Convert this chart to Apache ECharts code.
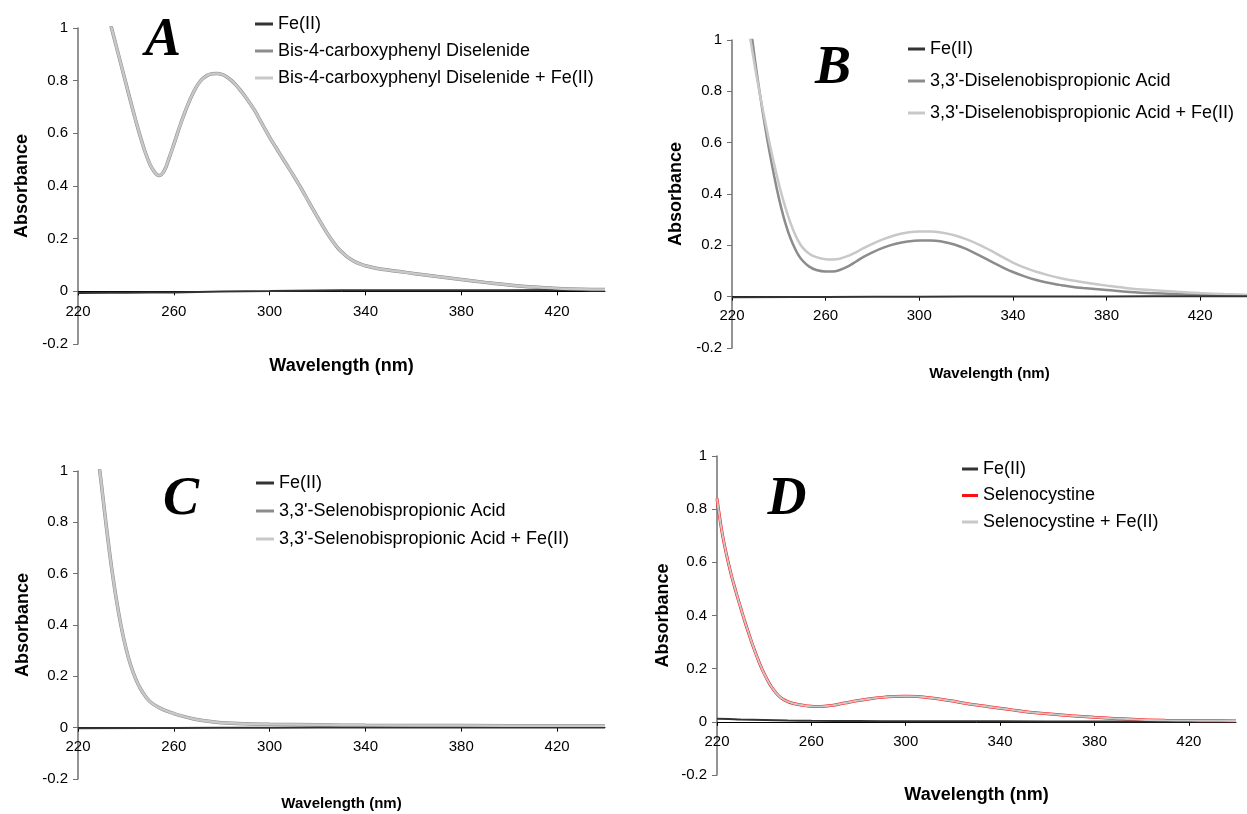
<!DOCTYPE html>
<html>
<head>
<meta charset="utf-8">
<title>UV-Vis spectra A-D</title>
<script src="https://cdn.jsdelivr.net/npm/echarts@6/dist/echarts.min.js"></script>
<style>
  html, body { margin: 0; padding: 0; background: #fff; }
  #chart { width: 1247px; height: 814px; }
</style>
</head>
<body>
<div id="chart"></div>
<script>
// ---- data (wavelength nm / absorbance) ----

// panel A
var aFeNm = [220, 240, 260, 280, 300, 320, 340, 380, 420, 440];
var aFeAbs = [-0.006, -0.005, -0.004, -0.001, 0.001, 0.003, 0.004, 0.004, 0.005, 0.004];
var aNm = [232, 234, 236, 238, 240, 242, 244, 246, 248, 250, 252, 253, 254, 256, 258, 260, 262, 264, 266, 268,
  270, 272, 274, 276, 278, 280, 282, 284, 286, 288, 290, 292, 294, 296, 298, 300, 302, 304, 306, 308,
  310, 312, 314, 316, 318, 320, 322, 324, 326, 328, 330, 332, 334, 336, 338, 340, 345, 350, 355, 360,
  370, 380, 390, 400, 410, 420, 430, 440];
var aAbs = [1.07, 1.0, 0.93, 0.86, 0.79, 0.72, 0.652, 0.588, 0.53, 0.483, 0.452, 0.443, 0.44, 0.458, 0.505, 0.558, 0.613, 0.665, 0.712, 0.752,
  0.785, 0.807, 0.82, 0.826, 0.827, 0.824, 0.815, 0.801, 0.783, 0.761, 0.737, 0.711, 0.683, 0.65, 0.617, 0.585, 0.555, 0.526, 0.497, 0.468,
  0.439, 0.409, 0.378, 0.345, 0.313, 0.282, 0.251, 0.221, 0.194, 0.17, 0.15, 0.134, 0.121, 0.111, 0.103, 0.097, 0.087, 0.08, 0.074, 0.068,
  0.056, 0.045, 0.034, 0.024, 0.016, 0.011, 0.008, 0.007];

// panel B
var bFeNm = [220, 260, 300, 340, 380, 420, 440];
var bFeAbs = [-0.002, -0.001, 0.0, 0.001, 0.001, 0.002, 0.002];
var bNm = [227, 228.7, 230, 232, 234, 236, 238, 240, 242, 244, 246, 248, 250, 253, 256, 260, 263, 266, 270, 273,
  276, 280, 285, 290, 295, 300, 305, 310, 315, 320, 325, 330, 335, 340, 345, 350, 355, 360, 365, 370,
  380, 390, 400, 410, 420, 430, 440];
var bAbs = [1.12, 1.0, 0.91, 0.785, 0.67, 0.565, 0.47, 0.385, 0.312, 0.252, 0.205, 0.168, 0.142, 0.117, 0.104, 0.098, 0.098, 0.104, 0.12, 0.137,
  0.154, 0.173, 0.192, 0.206, 0.215, 0.219, 0.219, 0.214, 0.203, 0.186, 0.164, 0.14, 0.117, 0.096, 0.079, 0.065, 0.054, 0.046, 0.039, 0.034,
  0.026, 0.018, 0.013, 0.01, 0.008, 0.006, 0.004];
var bFeMixNm = [226, 227.9, 230, 232, 234, 236, 238, 240, 242, 244, 246, 248, 250, 253, 256, 260, 263, 266, 270, 273,
  276, 280, 285, 290, 295, 300, 305, 310, 315, 320, 325, 330, 335, 340, 345, 350, 355, 360, 365, 370,
  380, 390, 400, 410, 420, 430, 440];
var bFeMixAbs = [1.1, 1.0, 0.885, 0.785, 0.69, 0.6, 0.517, 0.44, 0.372, 0.313, 0.263, 0.222, 0.193, 0.167, 0.154, 0.146, 0.145, 0.148, 0.16, 0.173,
  0.188, 0.206, 0.225, 0.24, 0.25, 0.254, 0.254, 0.249, 0.239, 0.224, 0.205, 0.182, 0.157, 0.133, 0.113, 0.097, 0.084, 0.073, 0.064, 0.056,
  0.043, 0.032, 0.025, 0.019, 0.014, 0.01, 0.007];

// panel C
var cFeNm = [220, 260, 300, 340, 380, 420, 440];
var cFeAbs = [-0.002, -0.001, 0.0, 0.001, 0.001, 0.001, 0.001];
var cNm = [228, 229.1, 230, 232, 234, 236, 238, 240, 242, 244, 246, 248, 250, 253, 256, 260, 264, 268, 272, 276,
  280, 290, 300, 320, 340, 380, 420, 440];
var cAbs = [1.09, 1.0, 0.93, 0.77, 0.625, 0.5, 0.395, 0.31, 0.243, 0.192, 0.153, 0.124, 0.102, 0.082, 0.068, 0.055, 0.044, 0.035, 0.028, 0.023,
  0.019, 0.015, 0.013, 0.011, 0.009, 0.008, 0.007, 0.007];

// panel D
var dFeNm = [220, 225, 230, 240, 250, 260, 280, 300, 340, 380, 440];
var dFeAbs = [0.012, 0.011, 0.009, 0.007, 0.005, 0.004, 0.003, 0.002, 0.002, 0.001, 0.001];
var dNm = [220, 222, 224, 226, 228, 230, 232, 234, 236, 238, 240, 242, 244, 246, 248, 250, 252, 255, 258, 261,
  264, 268, 272, 276, 280, 285, 290, 295, 300, 305, 310, 315, 320, 325, 330, 335, 340, 345, 350, 355,
  360, 370, 380, 390, 400, 410, 420, 430, 440];
var dAbs = [0.84, 0.72, 0.63, 0.555, 0.49, 0.43, 0.372, 0.318, 0.267, 0.221, 0.181, 0.147, 0.12, 0.099, 0.085, 0.076, 0.07, 0.064, 0.06, 0.058,
  0.058, 0.061, 0.067, 0.074, 0.080, 0.087, 0.092, 0.095, 0.096, 0.095, 0.091, 0.085, 0.078, 0.07, 0.063, 0.057, 0.051, 0.045, 0.039, 0.034,
  0.030, 0.023, 0.017, 0.012, 0.008, 0.006, 0.005, 0.004, 0.003];

var xTicks = [220, 260, 300, 340, 380, 420];
var yTicks = [-0.2, 0, 0.2, 0.4, 0.6, 0.8, 1];

var panelLetters = ['A', 'B', 'C', 'D'];
var legendNames = [
  ['Fe(II)', 'Bis-4-carboxyphenyl Diselenide', 'Bis-4-carboxyphenyl Diselenide + Fe(II)'],
  ['Fe(II)', "3,3'-Diselenobispropionic Acid", "3,3'-Diselenobispropionic Acid + Fe(II)"],
  ['Fe(II)', "3,3'-Selenobispropionic Acid", "3,3'-Selenobispropionic Acid + Fe(II)"],
  ['Fe(II)', 'Selenocystine', 'Selenocystine + Fe(II)']
];

function pairs(xs, ys) {
  var out = [];
  for (var i = 0; i < xs.length; i++) out.push([xs[i], ys[i]]);
  return out;
}

var FONT = '"Liberation Sans", Arial, sans-serif';
var chart = echarts.init(document.getElementById('chart'));

//panel frames (px), measured on the reference
var grids = [
  {left: 78, top: 28, width: 527, height: 316},
  {left: 732, top: 40, width: 515, height: 308},
  {left: 78, top: 471, width: 527, height: 308},
  {left: 717, top: 456, width: 519, height: 319}
];
var yNameGap = [47, 47, 46, 45];
var xNameGap = [13, 18, 17, 11];   // counted from the bottom of the frame
var xNameSize = [18, 15, 15, 18];
var xLabelMargin = [-40, -40, -40, -41]; // labels sit under the zero line, not under -0.2

var xAxes = [], yAxes = [];
for (var g = 0; g < 4; g++) {
  xAxes.push({
    type: 'value', gridIndex: g, min: xTicks[0], max: 440, interval: xTicks[1] - xTicks[0],
    name: 'Wavelength (nm)', nameLocation: 'middle', nameGap: xNameGap[g],
    nameTextStyle: {fontFamily: FONT, fontWeight: 'bold', fontSize: xNameSize[g], color: '#000'},
    axisLine: {onZero: true, lineStyle: {color: '#000', width: 1}},
    axisTick: {show: true, length: 4, lineStyle: {color: '#000'}},
    axisLabel: {fontFamily: FONT, fontSize: 15, color: '#000', margin: xLabelMargin[g], showMaxLabel: false},
    splitLine: {show: false}
  });
  yAxes.push({
    type: 'value', gridIndex: g, min: yTicks[0], max: yTicks[yTicks.length - 1], interval: 0.2,
    name: 'Absorbance', nameLocation: 'middle', nameGap: yNameGap[g],
    nameTextStyle: {fontFamily: FONT, fontWeight: 'bold', fontSize: 18, color: '#000'},
    axisLine: {show: true, onZero: false, lineStyle: {color: '#707070', width: 1.5}},
    axisTick: {show: true, length: 5, lineStyle: {color: '#707070'}},
    axisLabel: {fontFamily: FONT, fontSize: 15, color: '#000', margin: 10},
    splitLine: {show: false}
  });
}

function line(name, idx, data, color, width, z) {
  return {
    name: name, type: 'line', xAxisIndex: idx, yAxisIndex: idx,
    data: data, showSymbol: false, smooth: 0.4, clip: true, z: z,
    lineStyle: {color: color, width: width}, itemStyle: {color: color}
  };
}

var DARK = '#333333', MID = '#8c8c8c', LIGHT = '#c8c8c8', RED = '#ff1010';

var series = [
  line(legendNames[0][0], 0, pairs(aFeNm, aFeAbs), DARK, 2, 3),
  line(legendNames[0][1], 0, pairs(aNm, aAbs), MID, 3.5, 2),
  line(legendNames[0][2], 0, pairs(aNm, aAbs), LIGHT, 2.5, 4),

  line(legendNames[1][0], 1, pairs(bFeNm, bFeAbs), DARK, 2, 3),
  line(legendNames[1][1], 1, pairs(bNm, bAbs), MID, 2.5, 2),
  line(legendNames[1][2], 1, pairs(bFeMixNm, bFeMixAbs), LIGHT, 2.5, 2),

  line(legendNames[2][0], 2, pairs(cFeNm, cFeAbs), DARK, 2, 3),
  line(legendNames[2][1], 2, pairs(cNm, cAbs), MID, 3.5, 2),
  line(legendNames[2][2], 2, pairs(cNm, cAbs), LIGHT, 2.5, 4),

  line(legendNames[3][0], 3, pairs(dFeNm, dFeAbs), DARK, 2, 3),
  line(legendNames[3][1], 3, pairs(dNm, dAbs), RED, 3, 2),
  line(legendNames[3][2], 3, pairs(dNm, dAbs), LIGHT, 2, 4)
];

var legendPos = [
  {left: 250, top: 10, itemGap: 9, fontSize: 18, w: 18},
  {left: 903, top: 35, itemGap: 14, fontSize: 18, w: 17},
  {left: 251, top: 469, itemGap: 10, fontSize: 18, w: 18},
  {left: 957, top: 455, itemGap: 8.5, fontSize: 18, w: 16}
];
var legends = legendPos.map(function (p, i) {
  return {
    data: legendNames[i], orient: 'vertical', left: p.left, top: p.top, itemGap: p.itemGap,
    icon: 'rect', itemWidth: p.w, itemHeight: 3, selectedMode: false,
    textStyle: {fontFamily: FONT, fontSize: p.fontSize, color: '#000'}
  };
});

var letterPos = [[163, 41], [833, 69], [181, 500], [787, 500]];
var graphics = letterPos.map(function (p, i) {
  return {
    type: 'text', x: p[0], y: p[1], z: 10,
    style: {
      text: panelLetters[i], fill: '#000',
      font: 'italic bold 54px "Liberation Serif", "Times New Roman", serif',
      textAlign: 'center', textVerticalAlign: 'middle'
    }
  };
});

chart.setOption({
  backgroundColor: '#fff',
  animation: false,
  grid: grids,
  xAxis: xAxes,
  yAxis: yAxes,
  legend: legends,
  graphic: graphics,
  series: series
});
</script>
</body>
</html>
